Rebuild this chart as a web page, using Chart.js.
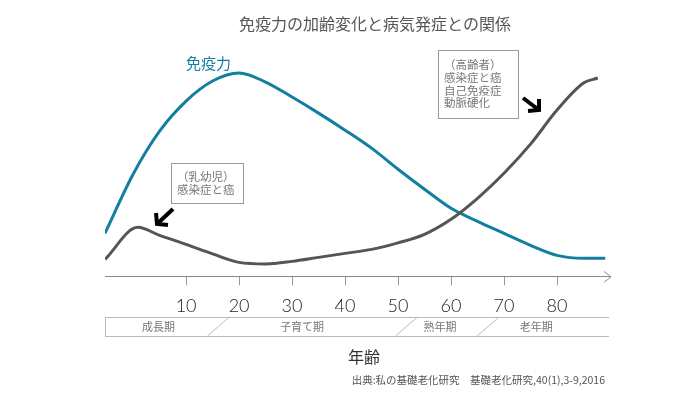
<!DOCTYPE html>
<html>
<head>
<meta charset="utf-8">
<script src="https://cdn.jsdelivr.net/npm/chart.js@4/dist/chart.umd.min.js"></script>
<style>
  html, body { margin: 0; padding: 0; background: #fff; }
  #wrap { width: 686px; height: 398px; position: relative; }
</style>
</head>
<body>
<div id="wrap"><canvas id="c" width="686" height="398"></canvas></div>
<script>
// ages on the x axis, level on an arbitrary 0-220 scale
var immuneAges   = [-5.3, 0, 5, 10, 15, 20, 25, 30, 35, 40, 45, 50, 55, 60, 65, 70, 75, 80, 85, 89.1];
var immuneLevels = [43, 102, 145, 175, 195, 203, 194, 179, 163, 146, 128, 107, 87, 68, 55, 43, 31, 21, 18, 18];

var diseaseAges   = [-5.3, 0.9, 5, 10, 15, 20, 25, 30, 35, 40, 45, 50, 55, 60, 65, 70, 75, 80, 85, 87.7];
var diseaseLevels = [17, 49, 41, 32, 22.5, 14, 12.5, 15, 19, 23, 27, 33.5, 42, 57, 78, 103, 132, 166, 193, 198];

var tickAges = [10, 20, 30, 40, 50, 60, 70, 80];

var stageNames = ['成長期', '子育て期', '熟年期', '老年期'];
var stageLabelAges = [4.8, 31.9, 57.9, 76.1];
var stageBounds = [16.1, 51.6, 67.0];

var titleText = '免疫力の加齢変化と病気発症との関係';
var seriesLabel = '免疫力';
var infantNote = ['（乳幼児）', '感染症と癌'];
var elderNote = ['（高齢者）', '感染症と癌', '自己免疫症', '動脈硬化'];
var xTitle = '年齢';
var sourceText = '出典:私の基礎老化研究　基礎老化研究,40(1),3-9,2016';

var JP = "'Noto Sans CJK JP', 'Noto Sans', sans-serif";

function toPoints(xs, ys) {
    return xs.map(function (x, i) { return {x: x, y: ys[i]}; });
}

function arrow(ctx, x1, y1, x2, y2, a1, a2) {
    ctx.save();
    ctx.strokeStyle = '#000';
    ctx.lineWidth = 4;
    ctx.lineCap = 'butt';
    ctx.lineJoin = 'miter';
    ctx.beginPath();
    ctx.moveTo(x1, y1);
    ctx.lineTo(x2, y2);
    ctx.stroke();
    ctx.beginPath();
    ctx.moveTo(a1[0], a1[1]);
    ctx.lineTo(x2, y2);
    ctx.lineTo(a2[0], a2[1]);
    ctx.stroke();
    ctx.restore();
}

function noteBox(ctx, x, y, w, h, lines, tx, ty, lh) {
    ctx.save();
    ctx.fillStyle = '#fff';
    ctx.fillRect(x, y, w, h);
    ctx.strokeStyle = '#999';
    ctx.lineWidth = 1;
    ctx.strokeRect(x + 0.5, y + 0.5, w, h);
    ctx.fillStyle = '#777';
    ctx.font = '11.5px ' + JP;
    ctx.textBaseline = 'middle';
    ctx.textAlign = 'left';
    lines.forEach(function (t, i) {
        ctx.fillText(t, tx, ty + i * lh);
    });
    ctx.restore();
}

var extras = {
    id: 'extras',
    afterDraw: function (chart) {
        var ctx = chart.ctx;
        var xs = chart.scales.x;
        var area = chart.chartArea;

        // arrow head at end of the age axis
        ctx.save();
        ctx.strokeStyle = '#888';
        ctx.lineWidth = 1;
        ctx.beginPath();
        ctx.moveTo(area.right - 6, area.bottom - 5);
        ctx.lineTo(area.right + 1, area.bottom + 0.5);
        ctx.lineTo(area.right - 6, area.bottom + 6);
        ctx.stroke();
        ctx.restore();

        // title
        ctx.save();
        ctx.fillStyle = '#555';
        ctx.font = '16px ' + JP;
        ctx.textAlign = 'center';
        ctx.textBaseline = 'middle';
        ctx.fillText(titleText, 375, 24);

        ctx.fillStyle = '#127fa0';
        ctx.font = '15px ' + JP;
        ctx.textAlign = 'left';
        ctx.fillText(seriesLabel, 186, 63);
        ctx.restore();

        // stage band under the axis
        var top = 317, bot = 336;
        var left = area.left, right = area.right - 1;
        ctx.save();
        ctx.strokeStyle = '#bbb';
        ctx.lineWidth = 1;
        ctx.beginPath();
        ctx.moveTo(left, top + 0.5);
        ctx.lineTo(right, top + 0.5);
        ctx.moveTo(left, bot + 0.5);
        ctx.lineTo(right, bot + 0.5);
        ctx.moveTo(left + 0.5, top);
        ctx.lineTo(left + 0.5, bot);
        stageBounds.forEach(function (b) {
            var px = xs.getPixelForValue(b);
            ctx.moveTo(px - 11, bot);
            ctx.lineTo(px + 11, top);
        });
        ctx.stroke();
        ctx.fillStyle = '#777';
        ctx.font = '11px ' + JP;
        ctx.textAlign = 'center';
        ctx.textBaseline = 'middle';
        stageNames.forEach(function (n, i) {
            ctx.fillText(n, xs.getPixelForValue(stageLabelAges[i]), 327);
        });

        ctx.fillStyle = '#333';
        ctx.font = '16px ' + JP;
        ctx.fillText(xTitle, 364, 357);

        ctx.fillStyle = '#555';
        ctx.font = '10.5px ' + JP;
        ctx.textAlign = 'right';
        ctx.fillText(sourceText, 605, 380);
        ctx.restore();

        // notes
        noteBox(ctx, 171, 163, 72, 40, infantNote, 177, 177, 13);
        noteBox(ctx, 438, 50, 80, 68, elderNote, 444, 65, 12.7);
        arrow(ctx, 173, 209, 157, 224, [156, 213], [168, 225]);
        arrow(ctx, 523, 98, 539, 110, [528, 111], [539, 99]);
    }
};

var ctx = document.getElementById('c');
var chart = new Chart(ctx, {
    type: 'line',
    data: {
        datasets: [{
            label: 'disease',
            data: toPoints(diseaseAges, diseaseLevels),
            borderColor: '#555',
            borderWidth: 3,
            pointRadius: 0,
            cubicInterpolationMode: 'monotone',
            fill: false
        }, {
            label: seriesLabel,
            data: toPoints(immuneAges, immuneLevels),
            borderColor: '#127fa0',
            borderWidth: 3,
            pointRadius: 0,
            cubicInterpolationMode: 'monotone',
            fill: false
        }]
    },
    options: {
        responsive: false,
        animation: false,
        events: [],
        layout: { padding: { left: 105, right: 76, top: 56, bottom: 71 } },
        plugins: {
            legend: { display: false },
            tooltip: { enabled: false }
        },
        scales: {
            x: {
                type: 'linear',
                min: -5.3,
                max: 90,
                afterBuildTicks: function (axis) {
                    axis.ticks = tickAges.map(function (v) { return {value: v}; });
                },
                grid: {
                    drawOnChartArea: false,
                    drawTicks: true,
                    tickLength: 9,
                    color: '#999'
                },
                border: { display: true, color: '#888', width: 1 },
                ticks: {
                    color: '#222',
                    padding: 10,
                    maxRotation: 0,
                    autoSkip: false,
                    font: { size: 18, family: "Lato, 'Noto Sans', sans-serif", weight: 300 }
                }
            },
            y: {
                display: false,
                min: 0,
                max: 220
            }
        }
    },
    plugins: [extras]
});
</script>
</body>
</html>
